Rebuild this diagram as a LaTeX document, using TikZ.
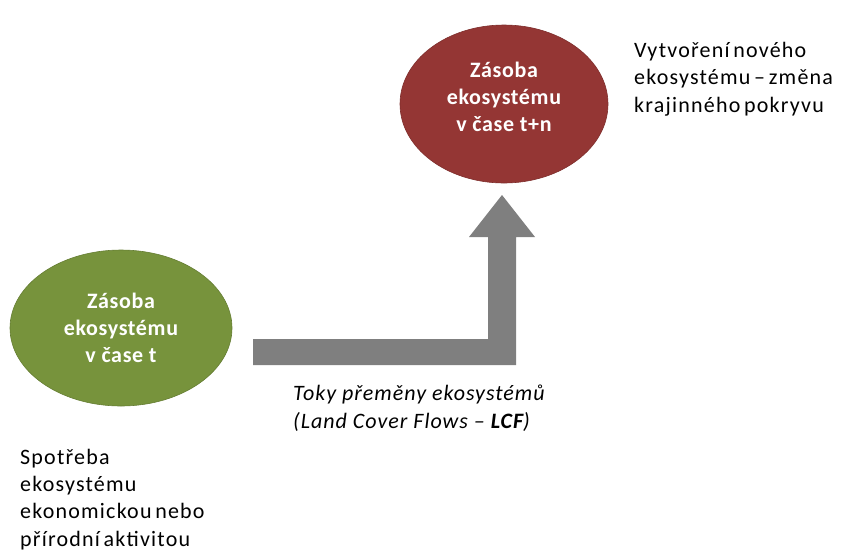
\documentclass[tikz,border=0pt]{standalone}
\usepackage{fontspec}
\setmainfont{Carlito}
\newfontfamily\bodyfont{Carlito}[LetterSpace=5.5,WordSpace=0.6]
\newfontfamily\flowfont{Carlito}[LetterSpace=4.5]
\newfontfamily\stockfont{Carlito}[LetterSpace=3]
\definecolor{ecored}{HTML}{943634}
\definecolor{ecogreen}{HTML}{77933C}
\definecolor{flowgray}{HTML}{7F7F7F}
\usetikzlibrary{shapes.geometric}
\tikzset{
  stock/.style={ellipse, draw=#1!85!black, line width=0.6pt, fill=#1, inner sep=0pt},
  stocktext/.style={text=white, align=center, anchor=base, inner sep=0pt,
    font=\stockfont\bfseries\fontsize{22}{27}\selectfont},
  note/.style={align=left, anchor=base west, inner sep=0pt,
    font=\bodyfont\fontsize{22}{27.3}\selectfont},
  flowlabel/.style={align=left, anchor=base west, inner sep=0pt,
    font=\flowfont\itshape\fontsize{22}{28}\selectfont},
}
\begin{document}
\begin{tikzpicture}[x=1pt,y=-1pt]
\useasboundingbox (0,0) rectangle (842,550);
\node[stock=ecored, minimum width=208pt, minimum height=158pt] (tn) at (504,104) {};
\node[stocktext] (tntext) at (504,131) {Zásoba\\ekosystému\\v čase t+n};
\node[stock=ecogreen, minimum width=222pt, minimum height=156pt] (t) at (121,328) {};
\node[stocktext] (ttext) at (121,362) {Zásoba\\ekosystému\\v čase t};
% flow arrow
\coordinate (a1) at (253,339);
\coordinate (a2) at (488,339);
\coordinate (a3) at (488,237);
\coordinate (a4) at (469,237);
\coordinate (tip) at (502,195);
\coordinate (a6) at (535,237);
\coordinate (a7) at (516,237);
\coordinate (a8) at (516,365);
\coordinate (a9) at (253,365);
\fill[flowgray] (a1) -- (a2) -- (a3) -- (a4) -- (tip) -- (a6) -- (a7) -- (a8) -- (a9) -- cycle;
\node[note] (new) at (634,112) {Vytvoření nového\\ekosystému – změna\\krajinného pokryvu};
\node[note] (use) at (20,546) {Spotřeba\\ekosystému\\ekonomickou nebo\\přírodní aktivitou};
\node[flowlabel] (lcf) at (293,428) {Toky přeměny ekosystémů\\(Land Cover Flows – \textbf{LCF})};
\end{tikzpicture}
\end{document}
